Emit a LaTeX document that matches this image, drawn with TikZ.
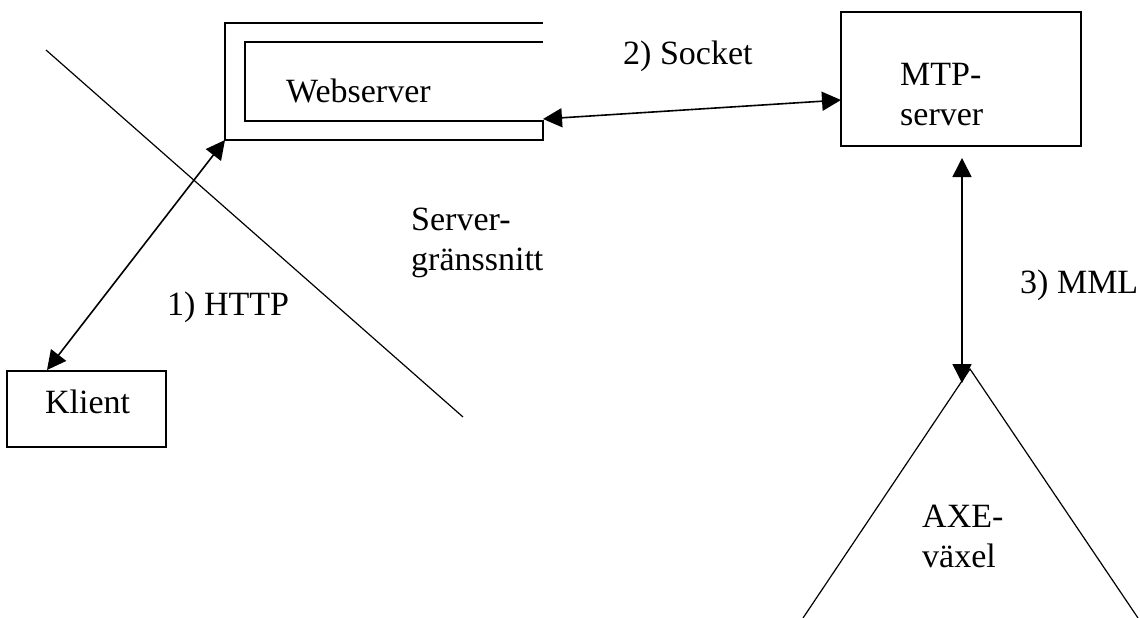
\documentclass[tikz,border=0pt]{standalone}
\usepackage{fontspec}
\setmainfont{Liberation Serif}
\usetikzlibrary{arrows.meta}
\begin{document}
\begin{tikzpicture}[x=1pt,y=-1pt,
  ln/.style={line width=1.6pt},
  thin ln/.style={line width=1.2pt},
  dbl/.style={ln,{Triangle[length=19pt,width=19pt]}-{Triangle[length=19pt,width=19pt]}},
  txt/.style={anchor=base west, inner sep=0, font=\fontsize{34}{40}\selectfont},
  box/.style={draw, ln, inner sep=0}]
\useasboundingbox (0,0) rectangle (1140,618);

% boundary line (Servergränssnitt)
\coordinate (b1) at (46,50);
\coordinate (b2) at (463,417);
\draw[thin ln] (b1) -- (b2);

% Webserver frame
\draw[ln] (543,23) -- (225,23) -- (225,140) -- (543,140) -- (543,121) -- (245,121) -- (245,42) -- (543,42);
\coordinate (webcorner) at (225,140);
\coordinate (webport) at (543,119);
\node[txt] (webtxt) at (286,102) {Webserver};

% Klient
\node[box, minimum width=159pt, minimum height=76pt] (klient) at (86.5,409) {};
\node[txt] (klienttxt) at (45,413) {Klient};
\coordinate (klienttop) at (47,370);

% MTP-server
\node[box, minimum width=240pt, minimum height=134pt] (mtp) at (961,79) {};
\node[txt] (mtp1) at (900,85) {MTP-};
\node[txt] (mtp2) at (900,125) {server};
\coordinate (mtpin) at (841,100);
\coordinate (mtpbot) at (962,158);

% AXE-växel triangle
\coordinate (apex) at (970,369);
\coordinate (bl) at (803,618);
\coordinate (br) at (1138,618);
\draw[thin ln] (bl) -- (apex) -- (br);
\node[txt] (axe1) at (922,527) {AXE-};
\node[txt] (axe2) at (922,567) {växel};
\coordinate (axetop) at (962,383);

% connectors
\draw[dbl] (klienttop) -- (webcorner);
\draw[dbl] (webport) -- (mtpin);
\draw[dbl] (mtpbot) -- (axetop);

% labels
\node[txt] (http) at (167,315) {1) HTTP};
\node[txt] (sock) at (623,65) {2) Socket};
\node[txt] (mml) at (1020,293) {3) MML};
\node[txt] (sg1) at (411,230) {Server-};
\node[txt] (sg2) at (411,270) {gränssnitt};
\end{tikzpicture}
\end{document}
